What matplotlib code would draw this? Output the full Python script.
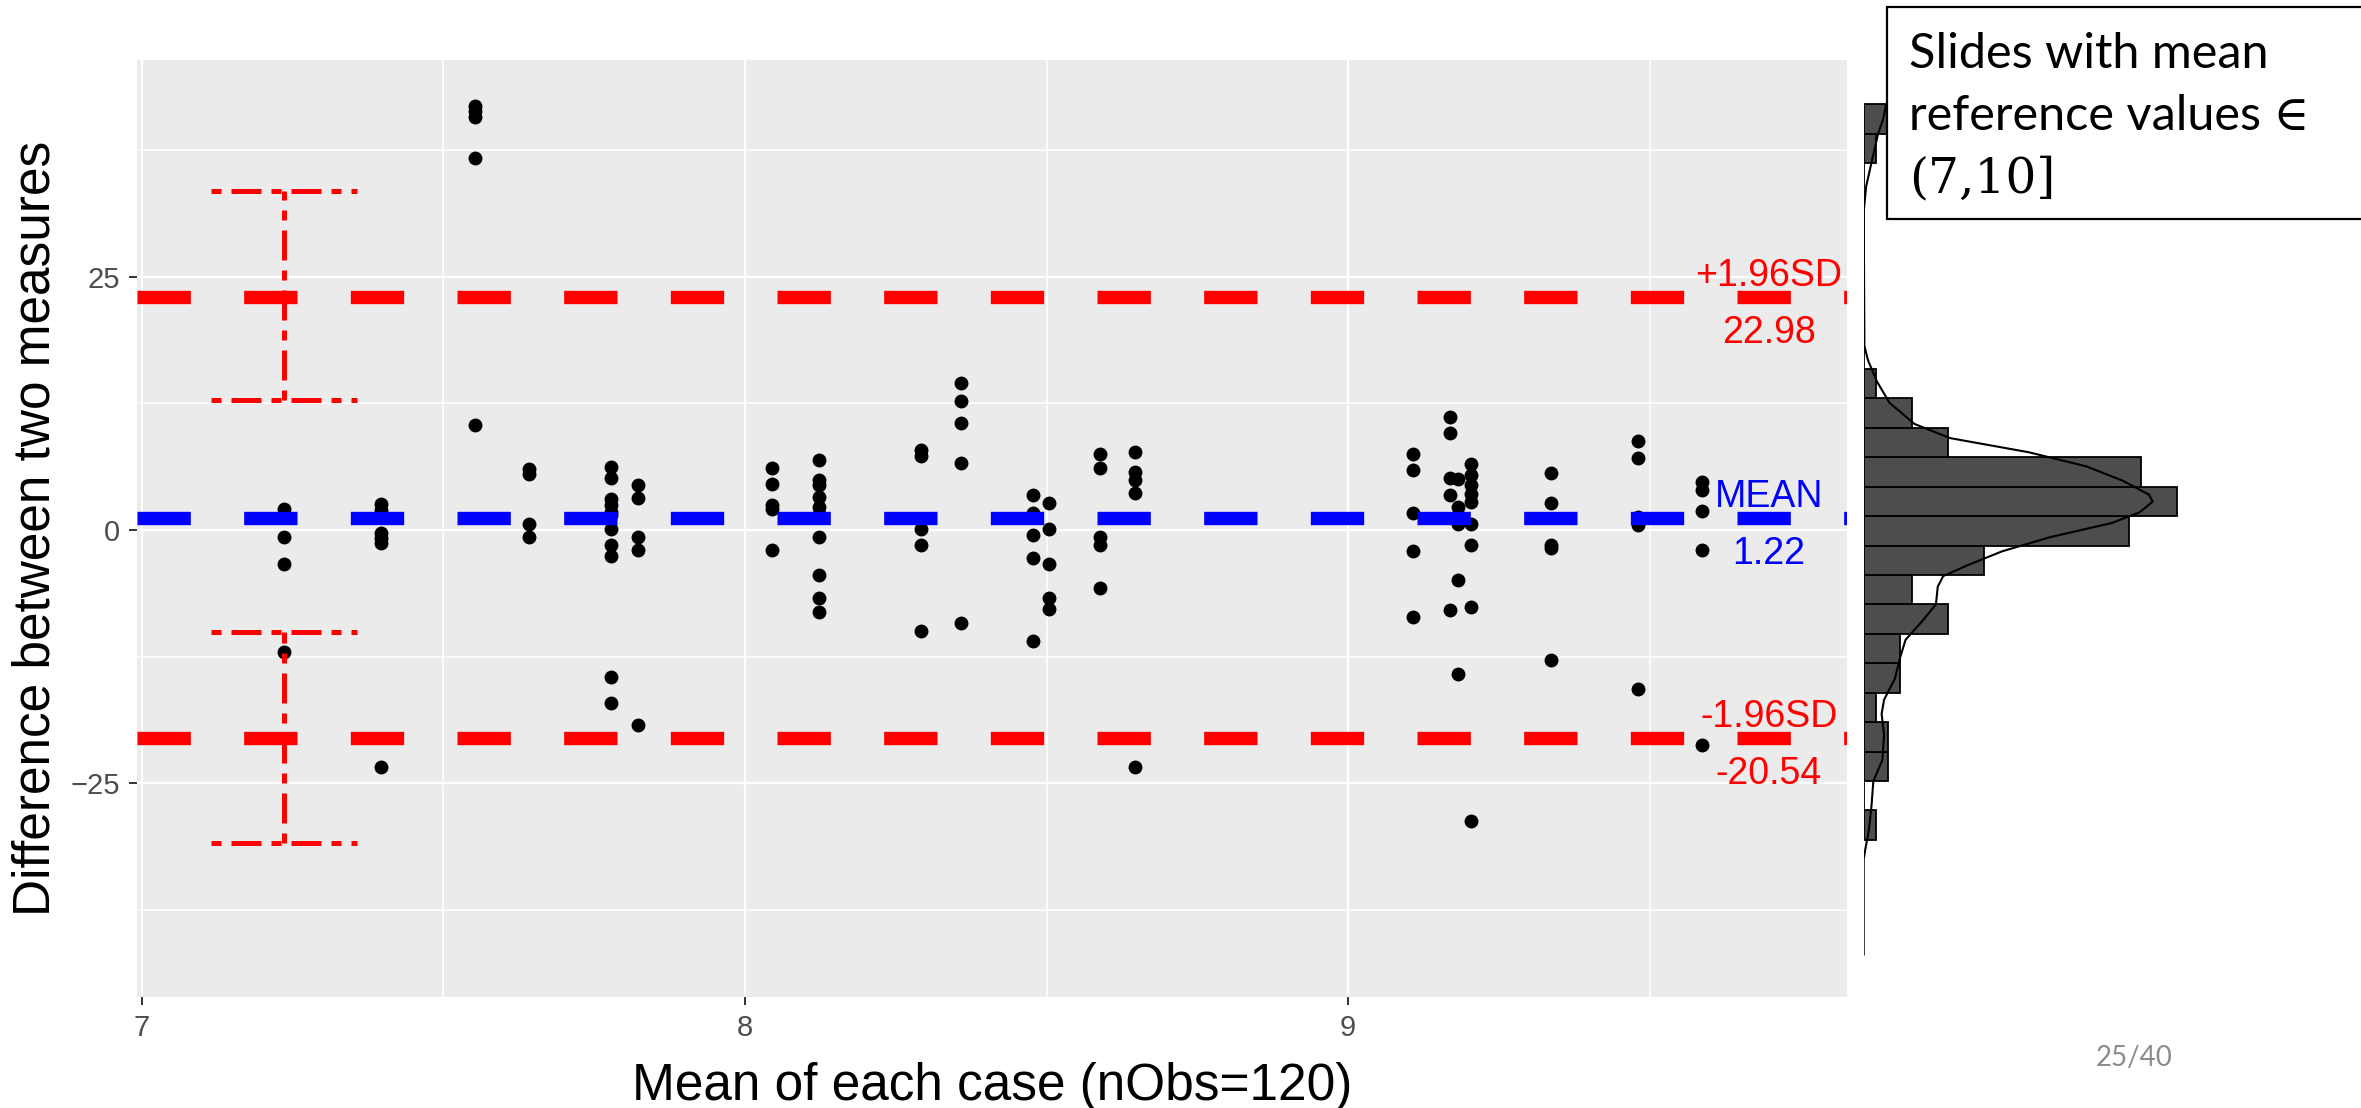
import numpy as np
import matplotlib.pyplot as plt
from matplotlib.patches import Rectangle

W, H = 2361, 1108

# mean of each case: the points sit in columns, one list of differences per column
col_x = [7.236, 7.397, 7.553, 7.642, 7.778, 7.822, 8.044, 8.123, 8.292, 8.358,
         8.478, 8.504, 8.589, 8.646, 9.107, 9.169, 9.182, 9.204, 9.337, 9.48, 9.586]
col_diff = [
    [2.05, -0.72, -3.36, -12.0],
    [2.57, 1.98, -0.33, -0.82, -1.31, -23.4],
    [41.9, 41.4, 40.8, 36.7, 10.4],
    [6.0, 5.5, 0.6, -0.7],
    [6.2, 5.1, 3.1, 2.5, 1.8, 1.5, 0.07, -1.5, -2.6, -14.5, -17.1],
    [4.45, 3.2, -0.66, -2.0, -19.2],
    [6.16, 4.55, 2.5, 2.1, -2.0],
    [6.9, 4.9, 4.4, 3.3, 2.3, 1.6, -0.72, -4.4, -6.75, -8.1],
    [7.9, 7.3, 0.07, -1.5, -9.95],
    [14.55, 12.7, 10.6, 6.65, -9.16],
    [3.46, 1.7, -0.5, -2.8, -11.0],
    [2.7, 0.07, -3.36, -6.75, -7.8],
    [7.48, 6.16, -0.67, -1.5, -5.7],
    [7.74, 5.76, 4.94, 3.69, -23.4],
    [7.5, 5.93, 1.65, -2.04, -8.63],
    [11.2, 9.6, 5.1, 3.46, -7.9],
    [5.0, 2.3, 1.5, 0.6, -4.9, -14.2],
    [6.5, 5.43, 4.45, 3.6, 2.8, 0.6, -1.5, -7.6, -28.7],
    [5.6, 2.7, -1.5, -1.8, -12.85],
    [8.8, 7.15, 1.3, 0.5, -15.7],
    [4.7, 4.0, 1.9, -2.0, -21.2],
]

mean_diff = 1.22
upper_loa = 22.98
lower_loa = -20.54
upper_ci = [12.85, 33.5]
lower_ci = [-30.9, -10.05]
ci_x = 7.236
ci_cap = [7.115, 7.356]

# marginal histogram
bin_start = -30.59
bin_width = 2.905
n_bins = 25

# density outline (scaled to counts)
dens_y = [44.5, 43.0, 41.9, 40.5, 39.1, 36.3, 33.9, 31.4, 18.15, 16.75, 14.66, 12.57,
          10.47, 9.07, 7.68, 6.28, 4.88, 3.49, 2.79, 1.74, 0.69, -0.70, -2.10, -3.49,
          -4.55, -5.59, -7.34, -9.08, -10.83, -12.57, -14.67, -16.76, -18.16, -20.26,
          -22.7, -24.8, -27.2, -29.7, -31.4, -32.5, -41.9]
dens_n = [2.6, 2.2, 1.84, 1.6, 1.19, 0.65, 0.2, 0.0, 0.06, 0.36, 1.1, 2.14,
          4.22, 7.19, 13.7, 18.5, 21.5, 23.7, 24.0, 22.9, 20.6, 15.5, 11.5, 8.6,
          6.6, 6.15, 6.0, 4.8, 3.48, 3.03, 2.59, 1.69, 1.49, 1.69,
          1.55, 0.8, 0.65, 0.42, 0.15, 0.0, 0.0]

x = np.concatenate([[cx] * len(d) for cx, d in zip(col_x, col_diff)])
y = np.concatenate(col_diff)
edges = bin_start + bin_width * np.arange(n_bins + 1)

plt.rcParams['font.family'] = ['Liberation Sans', 'DejaVu Sans']

fig = plt.figure(figsize=(W / 100, H / 100), dpi=100)

# main Bland-Altman panel
left, right, top, bottom = 137, 1847, 60, 997
ax = fig.add_axes([left / W, 1 - bottom / H, (right - left) / W, (bottom - top) / H])
ax.set_facecolor('#EBEBEB')
for s in ax.spines.values():
    s.set_visible(False)
ax.set_xlim(6.992, 9.827)
ax.set_ylim(-46.1, 46.4)
ax.set_xticks([7, 8, 9])
ax.set_yticks([-25, 0, 25])
ax.set_xticks([7.5, 8.5, 9.5], minor=True)
ax.set_yticks([-37.5, -12.5, 12.5, 37.5], minor=True)
ax.grid(which='major', color='white', lw=1.6)
ax.grid(which='minor', color='white', lw=1.1)
ax.set_axisbelow(True)
ax.tick_params(which='minor', length=0)
ax.tick_params(which='major', length=5.5, width=1.4, color='#333333',
               labelcolor='#4D4D4D', labelsize=21, pad=6.5)

ax.plot(x, y, 'o', color='black', ms=10, mew=0, zorder=2)

ax.axhline(upper_loa, color='red', lw=9.6, dashes=(4, 4), zorder=3)
ax.axhline(lower_loa, color='red', lw=9.6, dashes=(4, 4), zorder=3)
ax.axhline(mean_diff, color='blue', lw=9.6, dashes=(4, 4), zorder=3)

# confidence intervals of the limits
for ci in (upper_ci, lower_ci):
    ax.plot([ci_x, ci_x], ci, color='red', lw=3.6, dashes=(2, 2, 6, 2), zorder=4)
    for yy in ci:
        ax.plot(ci_cap, [yy, yy], color='red', lw=3.6, dashes=(2, 2, 6, 2), zorder=4)

lab_x = 9.697
ax.text(lab_x, upper_loa + 1.1, '+1.96SD', color='red', fontsize=27, ha='center', va='baseline', zorder=5)
ax.text(lab_x, upper_loa - 4.55, f'{upper_loa:.2f}', color='red', fontsize=27, ha='center', va='baseline', zorder=5)
ax.text(lab_x, mean_diff + 1.1, 'MEAN', color='blue', fontsize=27, ha='center', va='baseline', zorder=5)
ax.text(lab_x, mean_diff - 4.55, f'{mean_diff:.2f}', color='blue', fontsize=27, ha='center', va='baseline', zorder=5)
ax.text(lab_x, lower_loa + 1.1, '-1.96SD', color='red', fontsize=27, ha='center', va='baseline', zorder=5)
ax.text(lab_x, lower_loa - 4.55, f'{lower_loa:.2f}', color='red', fontsize=27, ha='center', va='baseline', zorder=5)

fig.text(992 / W, 1 - 1100 / H, 'Mean of each case (nObs=120)', fontsize=37,
         ha='center', va='baseline')
fig.text(36 / W, 1 - 528 / H, 'Difference between two measures', fontsize=37,
         rotation=90, ha='center', va='center')

# marginal histogram with density
h_left = 1863.7
ax_h = fig.add_axes([h_left / W, 1 - bottom / H, (W - h_left) / W, (bottom - top) / H])
ax_h.set_ylim(-46.1, 46.4)
ax_h.set_xlim(0, (W - h_left) / 12.04)
ax_h.axis('off')
ax_h.hist(y, bins=edges, orientation='horizontal', color='#4D4D4D',
          edgecolor='black', lw=1.3)
ax_h.plot(dens_n, dens_y, color='black', lw=1.5)

# slide annotation box
box = Rectangle((1887 / W, 1 - 219 / H), (W - 1887 + 30) / W, (219 - 7) / H,
                transform=fig.transFigure, facecolor='white', edgecolor='black',
                lw=1.6, zorder=10)
fig.add_artist(box)
fig.text(1909 / W, 1 - 68 / H, 'Slides with mean', fontsize=35,
         family=['Lato', 'DejaVu Sans'], va='baseline', zorder=11)
fig.text(1909 / W, 1 - 130 / H, 'reference values \u2208', fontsize=35,
         family=['Lato', 'DejaVu Serif'], va='baseline', zorder=11)
fig.text(1909 / W, 1 - 192 / H, '(7,10]', fontsize=35,
         family=['DejaVu Serif'], va='baseline', zorder=11)

fig.text(2134 / W, 1 - 1058 / H, '25/40', fontsize=20, color='#8C8C8C',
         family=['Lato', 'DejaVu Sans'], ha='center', va='center')

fig.savefig('out.png', dpi=100)
